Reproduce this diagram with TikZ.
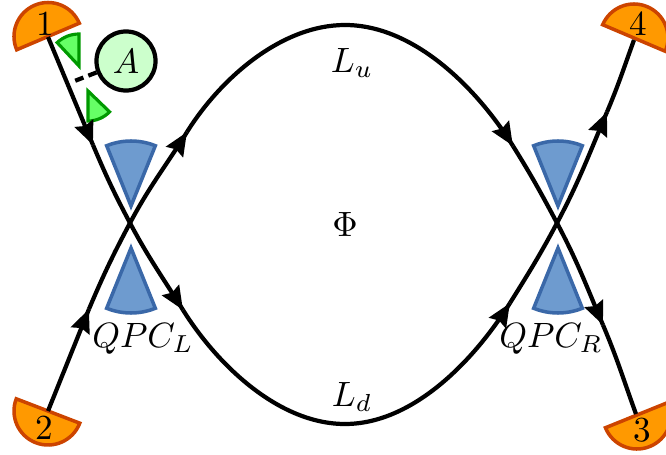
\documentclass[tikz,border=0pt]{standalone}
\usepackage{amsmath}
\usetikzlibrary{arrows.meta,decorations.markings,positioning}
\definecolor{detfill}{HTML}{FF9900}
\definecolor{detline}{HTML}{CC4400}
\definecolor{qpcfill}{HTML}{6E9BCF}
\definecolor{qpcline}{HTML}{3A68A8}
\definecolor{gatefill}{HTML}{66FF66}
\definecolor{gateline}{HTML}{009900}
\definecolor{ampfill}{HTML}{CCFFCC}
\tikzset{
  detector/.style={draw=detline,fill=detfill,line width=1pt},
  qpcgate/.style={draw=qpcline,fill=qpcfill,line width=1pt},
  ampgate/.style={draw=gateline,fill=gatefill,line width=0.9pt},
  ampnode/.style={circle,draw,fill=ampfill,line width=1.2pt,minimum size=5.9mm,inner sep=0pt},
  edgeline/.style={line width=1.2pt},
  tipped/.style={edgeline,postaction={decorate},decoration={markings,
    mark=at position 0.999 with {\arrow{Stealth[length=6.6pt,width=5.6pt,inset=0.8pt]}}}},
  label/.style={inner sep=0pt}
}

\begin{document}
\begin{tikzpicture}[x=0.01cm,y=0.01cm]
        \useasboundingbox (0,0) rectangle (666,454);
        % detectors
        \draw[detector] (48,417.5) ++(203:34) arc (203:23:34) -- cycle;
        \draw[detector] (48,43) ++(159:34) arc (159:339:34) -- cycle;
        \draw[detector] (637,39) ++(202:34) arc (202:382:34) -- cycle;
        \draw[detector] (634,416) ++(157:34) arc (157:-23:34) -- cycle;
        % gates
        \draw[qpcgate] (131,248) -- ++(68:65) arc (68:112:65) -- cycle;
        \draw[qpcgate] (131,206) -- ++(-68:65) arc (-68:-112:65) -- cycle;
        \draw[qpcgate] (558,248) -- ++(68:65) arc (68:112:65) -- cycle;
        \draw[qpcgate] (558,206) -- ++(-68:65) arc (-68:-112:65) -- cycle;
        \draw[ampgate] (79,388) -- ++(90:32) arc (90:133:32) -- cycle;
        \draw[ampgate] (88,363) -- ++(270:30) arc (270:316:30) -- cycle;
        % edge points
        \coordinate (d1) at (48,417);
        \coordinate (d2) at (48,43);
        \coordinate (d3) at (636,40);
        \coordinate (d4) at (634,414);
        \coordinate (ql) at (130,231);
        \coordinate (qr) at (557,231);
        \coordinate (top) at (345,429);
        \coordinate (bot) at (345,30);
        \coordinate (a1) at (93,309);
        \coordinate (a2) at (89,145);
        \coordinate (a3) at (187,322);
        \coordinate (a4) at (183,144);
        \coordinate (a5) at (513,308);
        \coordinate (a6) at (510,151);
        \coordinate (a7) at (607,342);
        \coordinate (a8) at (603,129);
        \coordinate (gap) at (72,372);
        % edges
        \draw[tipped] (d1) -- (a1);
        \draw[tipped] (d2) -- (a2);
        \draw[edgeline] (a1) to[out=-67,in=118] (ql);
        \draw[edgeline] (a2) to[out=67,in=-118] (ql);
        \draw[tipped] (ql) to[out=62,in=-122] (a3);
        \draw[tipped] (ql) to[out=-62,in=122] (a4);
        \draw[edgeline] (a3) to[out=58,in=180,looseness=0.85] (top);
        \draw[edgeline] (a4) to[out=-58,in=180,looseness=0.85] (bot);
        \draw[tipped] (top) to[out=0,in=122,looseness=0.85] (a5);
        \draw[tipped] (bot) to[out=0,in=-122,looseness=0.85] (a6);
        \draw[edgeline] (a5) to[out=-58,in=118] (qr);
        \draw[edgeline] (a6) to[out=58,in=-118] (qr);
        \draw[tipped] (qr) to[out=62,in=-113] (a7);
        \draw[tipped] (qr) to[out=-62,in=113] (a8);
        \draw[edgeline] (a7) to[out=67,in=-110] (d4);
        \draw[edgeline] (a8) to[out=-67,in=110] (d3);
        % amplifier
        \node[ampnode] (A) at (126,393) {$A$};
        \draw[edgeline,dash pattern=on 2.5pt off 1.5pt] (A) -- (gap);
        % labels
        \node[label] (n1) at (45,430) {1};
        \node[label] (n2) at (44,26) {2};
        \node[label] (n3) at (642,24) {3};
        \node[label] (n4) at (638,430) {4};
        \node[label] (lu) at (352,391) {$L_u$};
        \node[label] (ld) at (352,57) {$L_d$};
        \node[label] (phi) at (345,230) {$\Phi$};
        \node[label] (qpcl) at (143,115) {$QPC_L$};
        \node[label] (qpcr) at (551,115) {$QPC_R$};
      \end{tikzpicture}
\end{document}
